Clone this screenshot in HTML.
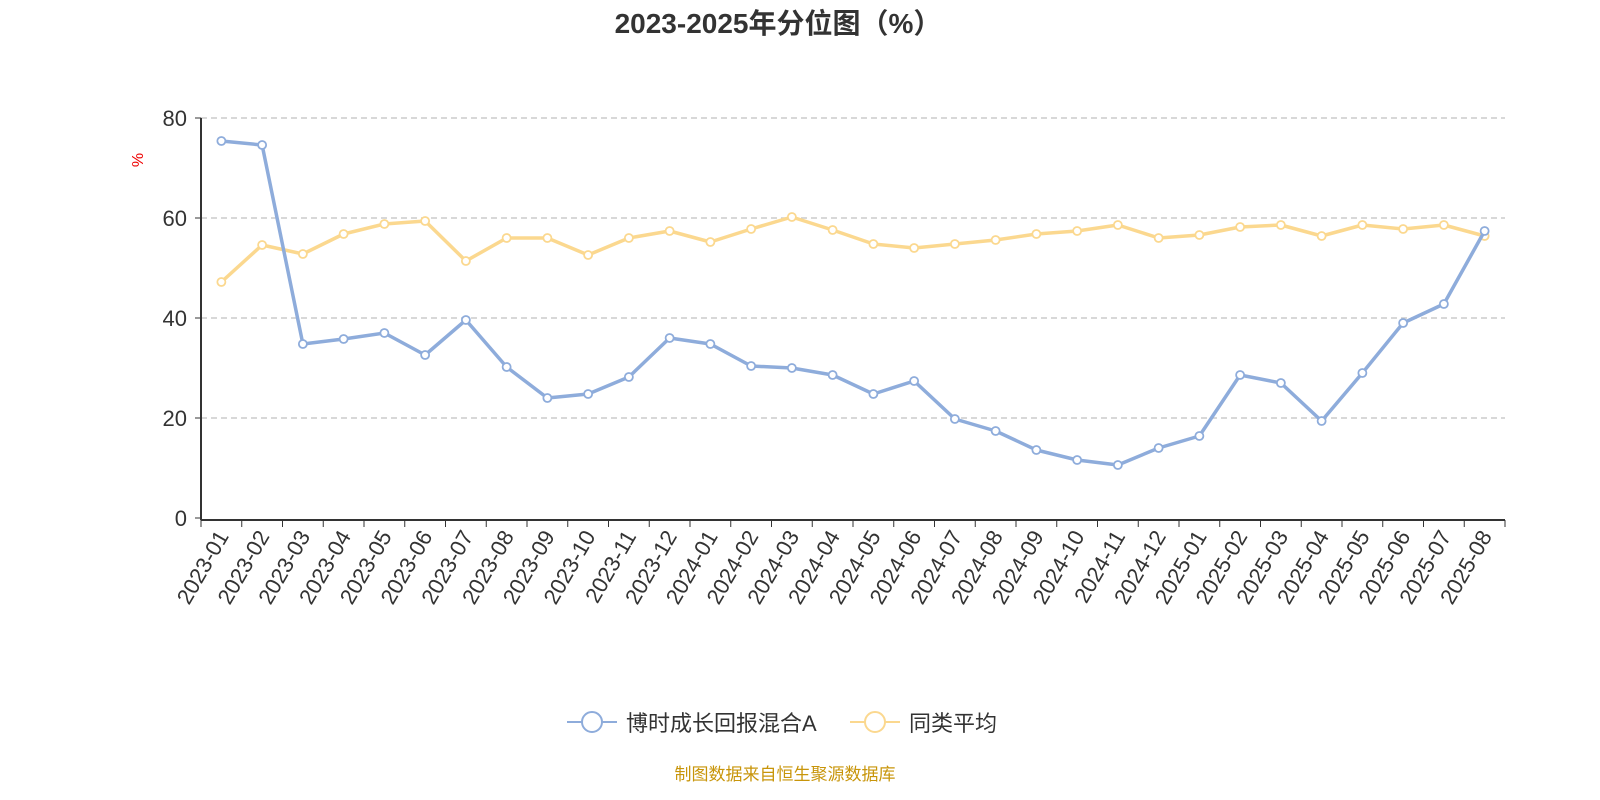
<!DOCTYPE html>
<html><head><meta charset="utf-8"><style>
body{margin:0;background:#fff;}
svg{display:block;font-family:"Liberation Sans","Noto Sans CJK SC",sans-serif;}
</style></head><body>
<svg id="chart" width="1600" height="800" viewBox="0 0 1600 800">
<text x="778" y="33" text-anchor="middle" font-size="28" font-weight="bold" fill="#333">2023-2025年分位图（%）</text>
<text x="143" y="160" font-size="16" fill="#e00" transform="rotate(-90 143 160)" text-anchor="middle">%</text>
<g id="grid"></g><g id="axes"></g><g id="series"></g>
<g>
<g><line x1="567" y1="722" x2="617" y2="722" stroke="#8eacdb" stroke-width="2"/><circle cx="592" cy="722" r="10" fill="#fff" stroke="#8eacdb" stroke-width="2"/><text x="626" y="731" font-size="22" fill="#333">博时成长回报混合A</text></g>
<g><line x1="850" y1="722" x2="900" y2="722" stroke="#fbd88f" stroke-width="2"/><circle cx="875" cy="722" r="10" fill="#fff" stroke="#fbd88f" stroke-width="2"/><text x="909" y="731" font-size="22" fill="#333">同类平均</text></g>
</g>
<text x="785" y="780" text-anchor="middle" font-size="17" fill="#c8950a">制图数据来自恒生聚源数据库</text>
</svg>
<script>
const categories=["2023-01","2023-02","2023-03","2023-04","2023-05","2023-06","2023-07","2023-08","2023-09","2023-10","2023-11","2023-12","2024-01","2024-02","2024-03","2024-04","2024-05","2024-06","2024-07","2024-08","2024-09","2024-10","2024-11","2024-12","2025-01","2025-02","2025-03","2025-04","2025-05","2025-06","2025-07","2025-08"];
const fundValues=[75.4,74.6,34.8,35.8,37,32.6,39.6,30.2,24,24.8,28.2,36,34.8,30.4,30,28.6,24.8,27.4,19.8,17.4,13.6,11.6,10.6,14,16.4,28.6,27,19.4,29,39,42.8,57.4];
const avgValues=[47.2,54.6,52.8,56.8,58.8,59.4,51.4,56,56,52.6,56,57.4,55.2,57.8,60.2,57.6,54.8,54,54.8,55.6,56.8,57.4,58.6,56,56.6,58.2,58.6,56.4,58.6,57.8,58.6,56.4];
const yTicks=[0,20,40,60,80];
const NS="http://www.w3.org/2000/svg";
const x0=201,x1=1505,y0=518,yTop=118,yMax=80;
const step=(x1-x0)/categories.length;
const xPos=i=>x0+step*(i+0.5);
const yPos=v=>y0-(v/yMax)*(y0-yTop);
function mk(tag,attrs,parent){const e=document.createElementNS(NS,tag);for(const k in attrs)e.setAttribute(k,attrs[k]);parent.appendChild(e);return e;}
const grid=document.getElementById('grid'),axes=document.getElementById('axes'),series=document.getElementById('series');
yTicks.forEach(t=>{
  if(t>0){const g=mk('line',{x1:x0,x2:x1,y1:yPos(t),y2:yPos(t),stroke:'#ccc','stroke-dasharray':'6,4','stroke-width':1.5},grid);
  
  }
  const tk=mk('line',{x1:x0-6,x2:x0,y1:yPos(t),y2:yPos(t),stroke:'#333'},axes);
  
  
  const tl=mk('text',{x:x0-14,y:yPos(t)+8,'text-anchor':'end','font-size':22,fill:'#333'},axes);
  tl.textContent=t;
  
  
});
const ya=mk('line',{x1:x0,x2:x0,y1:yTop,y2:y0+2,stroke:'#333','stroke-width':2},axes);


const xa=mk('line',{x1:x0,x2:x1,y1:y0+2,y2:y0+2,stroke:'#333','stroke-width':2},axes);


for(let i=0;i<=categories.length;i++){
  const tk=mk('line',{x1:x0+step*i,x2:x0+step*i,y1:y0+2,y2:y0+9,stroke:'#333'},axes);
  
  
}
categories.forEach((c,i)=>{
  const x=xPos(i)+8,y=y0+18;
  const t=mk('text',{x:x,y:y,'text-anchor':'end','font-size':22,fill:'#333',transform:`rotate(-60 ${x} ${y})`},axes);
  t.textContent=c;
  
  
});
function drawSeries(vals,color,name){
  const p=mk('polyline',{points:vals.map((v,i)=>xPos(i)+','+yPos(v)).join(' '),fill:'none',stroke:color,'stroke-width':3.5,'stroke-linejoin':'round'},series);
  
  
  vals.forEach((v,i)=>{
    const c=mk('circle',{cx:xPos(i),cy:yPos(v),r:4,fill:'#fff',stroke:color,'stroke-width':1.8},series);
    
    
  });
}
drawSeries(avgValues,'#fbd88f','average');
drawSeries(fundValues,'#8eacdb','fund');
</script>
</body></html>
